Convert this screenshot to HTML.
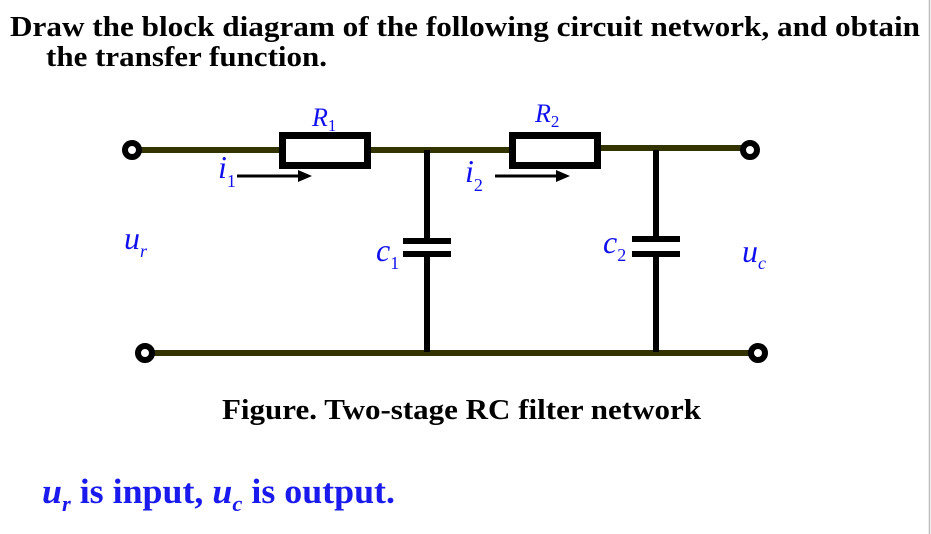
<!DOCTYPE html>
<html><head><style>body{margin:0;background:#fff}svg{display:block}text{font-family:"Liberation Serif",serif}</style></head><body>
<svg width="931" height="534" xmlns="http://www.w3.org/2000/svg" style="font-family:'Liberation Serif',serif">
<rect width="931" height="534" fill="#fff"/>
<line x1="929.5" y1="0" x2="929.5" y2="534" stroke="#bbb" stroke-width="1.5"/>
<text x="10" y="36" font-size="29" font-weight="bold" textLength="910" lengthAdjust="spacingAndGlyphs">Draw the block diagram of the following circuit network, and obtain</text>
<text x="46" y="66" font-size="29" font-weight="bold" textLength="281" lengthAdjust="spacingAndGlyphs">the transfer function.</text>
<g stroke="#333300" stroke-width="6" fill="none">
<line x1="132" y1="150" x2="280" y2="150"/>
<line x1="369" y1="150" x2="510" y2="150"/>
<line x1="600" y1="148" x2="750" y2="148"/>
<line x1="145" y1="353" x2="758" y2="353"/>
</g>
<g stroke="#000" fill="none">
<rect x="282.5" y="135.5" width="85" height="30" stroke-width="7"/>
<rect x="512.5" y="135.5" width="85" height="30" stroke-width="7"/>
<line x1="427" y1="150" x2="427" y2="239" stroke-width="6"/>
<line x1="427" y1="255" x2="427" y2="352" stroke-width="6"/>
<line x1="403" y1="241" x2="451" y2="241" stroke-width="6"/>
<line x1="403" y1="254" x2="451" y2="254" stroke-width="6"/>
<line x1="656" y1="150" x2="656" y2="238" stroke-width="6"/>
<line x1="656" y1="255" x2="656" y2="352" stroke-width="6"/>
<line x1="632" y1="239" x2="680" y2="239" stroke-width="6"/>
<line x1="632" y1="254" x2="680" y2="254" stroke-width="6"/>
<line x1="237" y1="176" x2="300" y2="176" stroke-width="3"/>
<line x1="495" y1="176" x2="558" y2="176" stroke-width="3"/>
</g>
<polygon points="298,170 312,176 298,182" fill="#000"/>
<polygon points="556,170 570,176 556,182" fill="#000"/>
<g fill="#fff" stroke="#000" stroke-width="6">
<circle cx="132" cy="150" r="7"/>
<circle cx="750" cy="150" r="7"/>
<circle cx="145" cy="353" r="7"/>
<circle cx="758" cy="353" r="7"/>
</g>
<g fill="#1010ee" font-style="italic">
<text x="312" y="126" font-size="26">R<tspan font-size="17" dy="5" font-style="normal">1</tspan></text>
<text x="535" y="122" font-size="26">R<tspan font-size="17" dy="5" font-style="normal">2</tspan></text>
<text x="218" y="178" font-size="32">i<tspan font-size="18" dy="9" font-style="normal">1</tspan></text>
<text x="465" y="182" font-size="32">i<tspan font-size="18" dy="9" font-style="normal">2</tspan></text>
<text x="124" y="249" font-size="32">u<tspan font-size="18" dy="8">r</tspan></text>
<text x="376" y="261" font-size="32">c<tspan font-size="18" dy="8" font-style="normal">1</tspan></text>
<text x="603" y="253" font-size="32">c<tspan font-size="18" dy="8" font-style="normal">2</tspan></text>
<text x="742" y="262" font-size="32">u<tspan font-size="18" dy="7">c</tspan></text>
</g>
<text x="222" y="419" font-size="29" font-weight="bold" textLength="479" lengthAdjust="spacingAndGlyphs">Figure. Two-stage RC filter network</text>
<text x="42" y="503" font-size="35" font-weight="bold" fill="#1a1aee" textLength="353" lengthAdjust="spacingAndGlyphs"><tspan font-style="italic">u</tspan><tspan font-style="italic" font-size="22" dy="8">r</tspan><tspan dy="-8"> is input, </tspan><tspan font-style="italic">u</tspan><tspan font-style="italic" font-size="22" dy="8">c</tspan><tspan dy="-8"> is output.</tspan></text>
</svg>
</body></html>
